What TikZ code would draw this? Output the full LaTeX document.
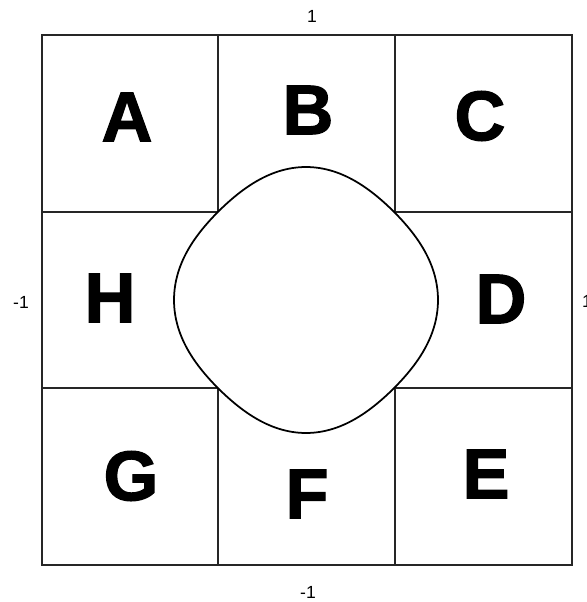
\documentclass[tikz,border=0pt]{standalone}
\usepackage{fontspec}
\setmainfont{Liberation Sans}
\newfontfamily\heavyfont{Liberation Sans Bold}[FakeBold=1.8]
\usepackage{tikz}
\usetikzlibrary{positioning}

\begin{document}
\begin{tikzpicture}[
        x=0.02cm, y=-0.02cm,
        region/.style={
            font=\fontsize{40}{40}\selectfont\heavyfont,
            inner sep=0pt
        },
        bound/.style={
            font=\fontsize{10}{10}\selectfont,
            inner sep=0pt
        },
        cell line/.style={
            line width=1.1pt,
            black!85
        },
        frame line/.style={
            line width=1.4pt,
            black!85
        }
    ]
        \useasboundingbox (0,0) rectangle (586,602);

        % Grid
        \draw[cell line] (218,35) -- (218,565);
        \draw[cell line] (395,35) -- (395,565);
        \draw[cell line] (42,212) -- (572,212);
        \draw[cell line] (42,388) -- (572,388);
        \draw[frame line] (42,35) rectangle (572,565);

        % Centre blob
        \coordinate (mid) at (306,300);
        \draw[line width=1pt, fill=white, shift={(mid)}]
            plot[domain=0:357, samples=120, smooth cycle]
            ({(128.25+3.75*cos(4*\x))*cos(\x)},
             {(128.8+4.2*cos(4*\x))*sin(\x)});

        % Nodes
        \node[region] (a) at (127,117) {A};
        \node[region] (b) at (308,110) {B};
        \node[region] (c) at (480,116) {C};
        \node[region] (d) at (501,299) {D};
        \node[region] (e) at (486,474) {E};
        \node[region] (f) at (307,494) {F};
        \node[region] (g) at (131,476) {G};
        \node[region] (h) at (110,298) {H};

        % Bounds
        \node[bound] (top) at (312,16) {1};
        \node[bound] (left) at (21,302) {-1};
        \node[bound] (right) at (587,301) {1};
        \node[bound] (bottom) at (308,592) {-1};
    \end{tikzpicture}
\end{document}
